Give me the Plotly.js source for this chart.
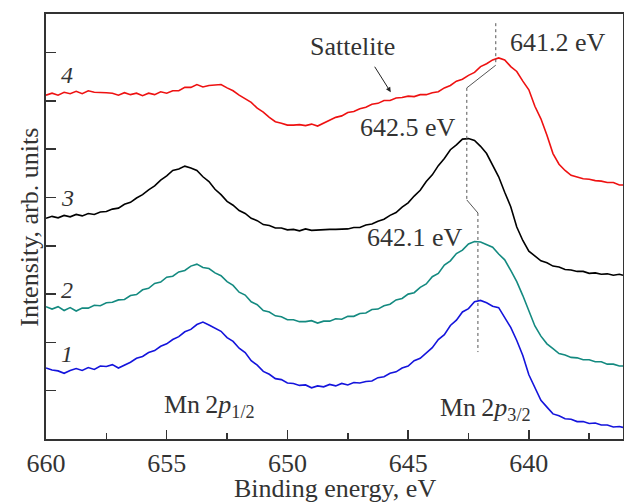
<!DOCTYPE html>
<html>
<head>
<meta charset="utf-8">
<script src="https://cdn.plot.ly/plotly-3.0.1.min.js"></script>
<style>html,body{margin:0;padding:0;background:#fff;}#chart{width:624px;height:502px;}</style>
</head>
<body>
<div id="chart"></div>
<script>
// Binding energy grid, eV
const energy = [660,659.75,659.5,659.25,659,658.75,658.5,658.25,658,657.75,657.5,657.25,657,656.75,656.5,656.25,656,655.75,655.5,655.25,655,654.75,654.5,654.25,654,653.75,653.5,653.25,653,652.75,652.5,652.25,652,651.75,651.5,651.25,651,650.75,650.5,650.25,650,649.75,649.5,649.25,649,648.75,648.5,648.25,648,647.75,647.5,647.25,647,646.75,646.5,646.25,646,645.75,645.5,645.25,645,644.75,644.5,644.25,644,643.75,643.5,643.25,643,642.75,642.5,642.25,642,641.75,641.5,641.25,641,640.75,640.5,640.25,640,639.75,639.5,639.25,639,638.75,638.5,638.25,638,637.75,637.5,637.25,637,636.75,636.5,636.25,636.1];

// Spectrum 1 (blue)
const spec1 = [1.47,1.43,1.41,1.36,1.42,1.46,1.42,1.48,1.44,1.51,1.50,1.54,1.47,1.53,1.59,1.67,1.71,1.79,1.83,1.92,1.97,2.06,2.12,2.22,2.27,2.37,2.42,2.36,2.29,2.23,2.10,2.02,1.88,1.79,1.62,1.53,1.40,1.34,1.25,1.23,1.16,1.15,1.11,1.12,1.06,1.10,1.08,1.13,1.10,1.15,1.12,1.17,1.16,1.19,1.20,1.27,1.29,1.36,1.39,1.47,1.51,1.62,1.67,1.78,1.89,2.06,2.16,2.35,2.46,2.63,2.70,2.84,2.87,2.82,2.75,2.72,2.50,2.31,2.04,1.73,1.33,1.06,0.80,0.66,0.52,0.48,0.42,0.41,0.36,0.36,0.32,0.33,0.29,0.29,0.25,0.26,0.24];

// Spectrum 2 (teal)
const spec2 = [2.74,2.69,2.74,2.66,2.72,2.65,2.71,2.71,2.77,2.76,2.82,2.83,2.88,2.89,2.97,2.99,3.09,3.12,3.22,3.25,3.35,3.37,3.46,3.49,3.58,3.62,3.55,3.53,3.44,3.38,3.26,3.18,3.04,2.98,2.84,2.78,2.66,2.63,2.55,2.53,2.47,2.47,2.43,2.43,2.45,2.40,2.44,2.44,2.49,2.48,2.54,2.54,2.60,2.61,2.68,2.69,2.76,2.79,2.88,2.91,3.00,3.03,3.14,3.21,3.36,3.43,3.60,3.69,3.84,3.91,4.04,4.09,4.08,4.03,3.97,3.83,3.71,3.49,3.26,2.97,2.66,2.34,2.13,1.97,1.87,1.77,1.74,1.69,1.68,1.64,1.64,1.60,1.60,1.55,1.55,1.51,1.51];

// Spectrum 3 (black)
const spec3 = [4.57,4.61,4.58,4.63,4.60,4.65,4.62,4.67,4.65,4.70,4.71,4.76,4.78,4.86,4.90,4.99,5.06,5.16,5.24,5.36,5.45,5.56,5.59,5.65,5.61,5.56,5.43,5.33,5.17,5.06,4.92,4.84,4.73,4.67,4.57,4.52,4.44,4.42,4.37,4.37,4.33,4.34,4.31,4.35,4.32,4.33,4.33,4.34,4.34,4.35,4.35,4.38,4.38,4.43,4.45,4.51,4.55,4.63,4.69,4.80,4.89,5.03,5.15,5.33,5.47,5.66,5.81,5.99,6.09,6.21,6.22,6.18,6.06,5.91,5.67,5.43,5.11,4.81,4.39,4.11,3.89,3.79,3.69,3.65,3.58,3.56,3.51,3.50,3.47,3.47,3.43,3.44,3.41,3.42,3.39,3.41,3.39];

// Spectrum 4 (red)
const spec4 = [7.12,7.16,7.12,7.18,7.15,7.20,7.15,7.21,7.18,7.18,7.17,7.16,7.12,7.17,7.13,7.16,7.11,7.16,7.13,7.19,7.16,7.21,7.21,7.28,7.28,7.34,7.29,7.32,7.33,7.34,7.27,7.21,7.12,7.05,6.97,6.85,6.77,6.66,6.57,6.54,6.50,6.50,6.51,6.49,6.52,6.48,6.54,6.59,6.66,6.69,6.76,6.78,6.84,6.87,6.93,6.95,7.01,7.01,7.06,7.07,7.10,7.09,7.13,7.13,7.17,7.19,7.27,7.32,7.41,7.45,7.53,7.59,7.71,7.77,7.85,7.89,7.85,7.71,7.61,7.41,7.23,6.89,6.63,6.29,5.91,5.69,5.56,5.46,5.43,5.39,5.38,5.35,5.34,5.31,5.31,5.26,5.26];

const curveNames = ['1','2','3','4'];
const curveColors = ['#1414dc','#148a80','#000000','#ee1111'];
const series = [spec1, spec2, spec3, spec4];

const FONT = 'Liberation Serif, Times New Roman, serif';
const TXT = '#333333';

const traces = series.map((s, i) => ({
  x: energy, y: s, type: 'scatter', mode: 'lines', name: curveNames[i],
  line: {color: curveColors[i], width: 1.6}, hoverinfo: 'skip'
}));

const labelPos = [[659.13, 1.76], [659.13, 3.08], [659.13, 4.99], [659.13, 7.54]];
const annotations = curveNames.map((n, i) => ({
  x: labelPos[i][0], y: labelPos[i][1], text: '<i>' + n + '</i>', showarrow: false,
  font: {family: FONT, size: 24, color: TXT}
}));
annotations.push(
  {x: 647.29, y: 8.12, text: 'Sattelite', showarrow: false, font: {family: FONT, size: 26, color: TXT}},
  {x: 645.72, y: 7.18, ax: -17, ay: -27, text: '', showarrow: true, arrowhead: 2, arrowsize: 1, arrowwidth: 1, arrowcolor: '#222'},
  {x: 638.80, y: 8.20, text: '641.2 eV', showarrow: false, font: {family: FONT, size: 26, color: TXT}},
  {x: 645.01, y: 6.46, text: '642.5 eV', showarrow: false, font: {family: FONT, size: 26, color: TXT}},
  {x: 644.72, y: 4.18, text: '642.1 eV', showarrow: false, font: {family: FONT, size: 26, color: TXT}},
  {x: 653.21, y: 0.68, text: 'Mn\u20092<i>p</i><sub>1/2</sub>', showarrow: false, font: {family: FONT, size: 26, color: TXT}},
  {x: 641.78, y: 0.62, text: 'Mn\u20092<i>p</i><sub>3/2</sub>', showarrow: false, font: {family: FONT, size: 26, color: TXT}},
  {xref: 'paper', yref: 'paper', x: -0.028, y: 0.499, xanchor: 'center', yanchor: 'middle', textangle: -90,
   text: 'Intensity, arb. units', showarrow: false, font: {family: FONT, size: 26, color: TXT}},
  {xref: 'paper', yref: 'paper', x: 0.5, y: -0.117, xanchor: 'center', yanchor: 'middle',
   text: 'Binding energy, eV', showarrow: false, font: {family: FONT, size: 26, color: TXT}}
);

const G = '#555555';
const shapes = [
  {type: 'line', x0: 641.37, x1: 641.37, y0: 8.61, y1: 7.74, line: {color: G, width: 1, dash: 'dot'}},
  {type: 'line', x0: 641.37, x1: 642.57, y0: 7.74, y1: 7.27, line: {color: G, width: 1}},
  {type: 'line', x0: 642.57, x1: 642.57, y0: 7.27, y1: 4.95, line: {color: G, width: 1, dash: 'dot'}},
  {type: 'line', x0: 642.57, x1: 642.11, y0: 4.95, y1: 4.68, line: {color: G, width: 1}},
  {type: 'line', x0: 642.11, x1: 642.11, y0: 4.68, y1: 1.80, line: {color: G, width: 1, dash: 'dot'}}
];

const layout = {
  width: 624, height: 502,
  margin: {l: 46, r: 1, t: 14, b: 63},
  paper_bgcolor: '#fff', plot_bgcolor: '#fff',
  showlegend: false,
  font: {family: FONT, size: 26, color: TXT},
  xaxis: {
    range: [660, 636.1], showgrid: false, zeroline: false,
    showline: true, linecolor: '#333', linewidth: 2, mirror: true,
    ticks: 'inside', ticklen: 9, tickwidth: 1.5, tickcolor: '#333',
    tick0: 660, dtick: 5,
    minor: {ticks: 'inside', dtick: 2.5, ticklen: 6, tickwidth: 1.5, tickcolor: '#333'},
    tickfont: {family: FONT, size: 26, color: TXT}
  },
  yaxis: {
    range: [0, 8.8], showgrid: false, zeroline: false,
    showline: true, linecolor: '#333', linewidth: 2, mirror: true,
    ticks: 'inside', ticklen: 10, tickwidth: 1.5, tickcolor: '#333',
    tick0: 0, dtick: 1, showticklabels: false
  },
  annotations: annotations,
  shapes: shapes
};

Plotly.newPlot('chart', traces, layout, {displayModeBar: false, staticPlot: true});
</script>
</body>
</html>
